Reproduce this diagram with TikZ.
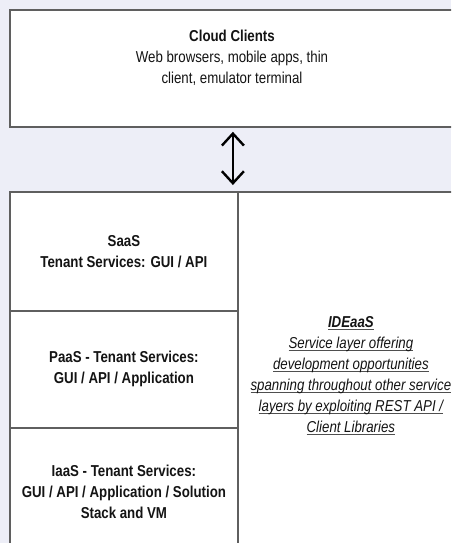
\documentclass[tikz,border=0pt]{standalone}
\usepackage{fontspec}
\setmainfont[FakeStretch=0.84]{Liberation Sans}
\usetikzlibrary{arrows.meta}

\definecolor{pagebg}{RGB}{237,238,247}
\definecolor{edgegray}{RGB}{95,95,95}
\definecolor{inkgray}{RGB}{20,20,20}

% underlined line of text
\newcommand{\ulline}[1]{\setbox0=\hbox{#1}\rlap{\color{inkgray!75}\rule[-3pt]{\wd0}{1.2pt}}\box0}

\tikzset{
    layer/.style={draw=edgegray, line width=1.8pt, fill=white, anchor=north west,
        align=center, text=inkgray, inner sep=0pt, font=\fontsize{15.8}{21}\selectfont\bfseries},
    txt/.style={align=center, text=inkgray, inner sep=0pt, font=\fontsize{15.8}{21}\selectfont},
    twoway/.style={{Straight Barb[length=12pt,width=22pt]}-{Straight Barb[length=12pt,width=22pt]},
        line width=2.4pt, black, shorten <=4pt, shorten >=6pt},
}

\begin{document}
\begin{tikzpicture}[x=1pt, y=-1pt]
    % Page size and background
    \useasboundingbox (0,0) rectangle (451,543);
    \fill[pagebg] (0,0) rectangle (451,543);
    \clip (0,0) rectangle (451,543);

    % Add the client box
    \node[layer, minimum width=446pt, minimum height=117pt] (clients) at (9,9) {};
    \node[txt] (clientstext) at (232,58) {\textbf{Cloud Clients}\\Web browsers, mobile apps, thin\\client, emulator terminal};

    % Add the IDE layer on the right
    \node[layer, minimum width=226pt, minimum height=368pt, font=\fontsize{15.8}{21}\selectfont\itshape] (ideaas) at (237,191)
        {\ulline{\textbf{IDEaaS}}\\\ulline{Service layer offering}\\\ulline{development opportunities}\\\ulline{spanning throughout other service}\\\ulline{layers by exploiting REST API /}\\\ulline{Client Libraries}};

    % Add the service layers
    \node[layer, minimum width=228pt, minimum height=119pt] (saas) at (9,191) {SaaS\\Tenant Services: GUI / API};
    \node[layer, minimum width=228pt, minimum height=117pt] (paas) at (9,310) {PaaS - Tenant Services:\\GUI / API / Application};
    \node[layer, minimum width=228pt, minimum height=128pt] (iaas) at (9,427) {IaaS - Tenant Services:\\GUI / API / Application / Solution\\Stack and VM};

    % Arrow between clients and services
    \draw[twoway] (clients.south) -- (clients.south |- saas.north);

\end{tikzpicture}
\end{document}
